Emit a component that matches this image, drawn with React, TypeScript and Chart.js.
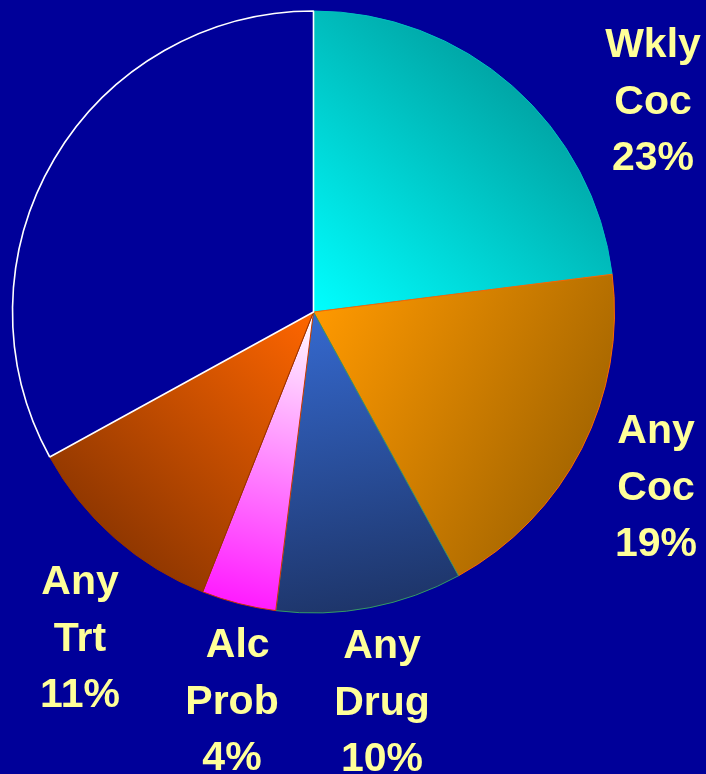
import React, { useEffect, useRef } from "react";
import { Chart, registerables } from "chart.js";

Chart.register(...registerables);

// ---- data ----
const categories = ["Wkly Coc", "Any Coc", "Any Drug", "Alc Prob", "Any Trt", "Other"];
const values = [23, 19, 10, 4, 11, 33];
const labelLines: string[][] = [
  ["Wkly", "Coc", "23%"],
  ["Any", "Coc", "19%"],
  ["Any", "Drug", "10%"],
  [" Alc", "Prob", "4%"],
  ["Any", "Trt", "11%"],
  [],
];

// ---- styles ----
const BG = "#000099";
const gradStart = ["#00FFFF", "#FF9900", "#3569CF", "#FFFFFF", "#FF6600", BG];
const gradEnd = ["#009C9C", "#9E6200", "#1B2F5E", "#FF00FF", "#843200", BG];
const borderColors = ["#00C0C0", "#FF6600", "#339966", "#CC3300", "#993300", "#FFFFFF"];
const borderWidths = [1, 1, 1, 1, 1, 1.6];
// label anchors: [centerX, first baseline]
const labelPos: [number, number][] = [
  [653, 57],
  [656, 443],
  [382, 658],
  [232, 657],
  [80, 594],
  [0, 0],
];
const LINE_H = 56.5;
const RADIUS = 301;
const GRAD_LEN = 1.12;

function sliceGradient(ctx: any) {
  const chart = ctx.chart;
  const i = ctx.dataIndex;
  const area = chart.chartArea;
  if (!area || i === undefined) return gradStart[i ?? 0];
  const cx = (area.left + area.right) / 2;
  const cy = (area.top + area.bottom) / 2;
  const total = values.reduce((a, b) => a + b, 0);
  let before = 0;
  for (let k = 0; k < i; k++) before += values[k];
  const mid = ((before + values[i] / 2) / total) * Math.PI * 2;
  const dx = Math.sin(mid);
  const dy = -Math.cos(mid);
  const L = RADIUS * GRAD_LEN;
  const g = chart.ctx.createLinearGradient(cx, cy, cx + dx * L, cy + dy * L);
  g.addColorStop(0, gradStart[i]);
  g.addColorStop(1, gradEnd[i]);
  return g;
}

const labelPlugin = {
  id: "sliceLabels",
  afterDraw(chart: any) {
    const c = chart.ctx;
    c.save();
    c.fillStyle = "#FFFF99";
    c.font = "bold 41px 'Liberation Sans', Arial, sans-serif";
    c.textAlign = "center";
    c.textBaseline = "alphabetic";
    labelLines.forEach((lines, i) => {
      const [x, y] = labelPos[i];
      lines.forEach((t, j) => c.fillText(t, x, y + j * LINE_H));
    });
    c.restore();
  },
};

const bgPlugin = {
  id: "bg",
  beforeDraw(chart: any) {
    const c = chart.ctx;
    c.save();
    c.fillStyle = BG;
    c.fillRect(0, 0, chart.width, chart.height);
    c.restore();
  },
};

export default function App() {
  const ref = useRef<HTMLCanvasElement>(null);
  useEffect(() => {
    document.body.style.margin = "0";
    document.body.style.background = BG;
    const chart = new Chart(ref.current!, {
      type: "pie",
      data: {
        labels: categories,
        datasets: [
          {
            data: values,
            backgroundColor: sliceGradient as any,
            borderColor: borderColors,
            borderWidth: borderWidths,
            radius: RADIUS,
          } as any,
        ],
      },
      options: {
        responsive: false,
        animation: false,
        events: [],
        layout: { padding: { left: 12.5, right: 91.5, top: 11, bottom: 161 } },
        plugins: {
          legend: { display: false },
          tooltip: { enabled: false },
        },
      },
      plugins: [bgPlugin, labelPlugin],
    });
    return () => chart.destroy();
  }, []);
  return (
    <div style={{ width: 706, height: 774, background: BG }}>
      <canvas ref={ref} width={706} height={774} style={{ display: "block" }} />
    </div>
  );
}
